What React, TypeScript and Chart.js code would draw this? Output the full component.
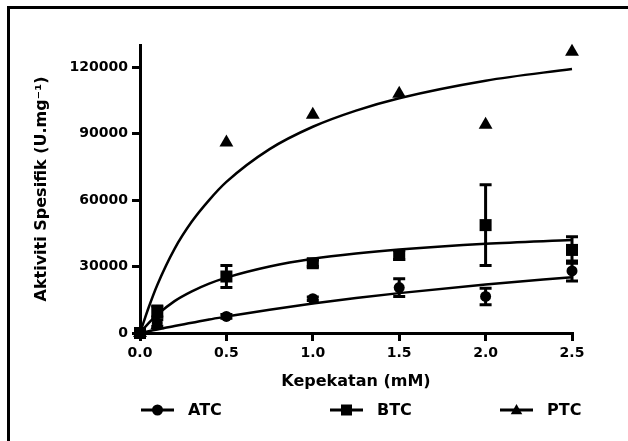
import React, { useEffect, useRef } from 'react';
import { Chart, registerables } from 'chart.js';

Chart.register(...registerables);

const FONT = "'DejaVu Sans', sans-serif";

// Measured points (mean ± error)
const concentrations = [0, 0.1, 0.5, 1.0, 1.5, 2.0, 2.5];
const atcMean = [0, 4500, 7500, 15500, 20500, 16500, 28000];
const atcErr = [0, 1500, 800, 800, 4000, 3700, 4500];
const btcMean = [0, 9700, 25500, 31500, 35200, 48700, 37500];
const btcErr = [0, 2500, 5000, 1500, 2000, 18200, 6000];
const ptcMean = [0, 3500, 86000, 98500, 108000, 94000, 127000];
const ptcErr = [0, 0, 0, 0, 0, 0, 0];

// Fitted curves
const fitX = [0, 0.05, 0.1, 0.2, 0.3, 0.4, 0.5, 0.75, 1.0, 1.25, 1.5, 2.0, 2.5];
const atcFit = [0, 800, 1600, 3200, 4600, 6100, 7400, 10500, 13300, 15800, 18000, 21900, 25200];
const btcFit = [0, 4500, 8300, 14400, 18800, 22300, 25000, 30000, 33500, 35900, 37700, 40300, 42000];
const ptcFit = [0, 11500, 21700, 38000, 50300, 60000, 68200, 83000, 93100, 100400, 106000, 113900, 119200];

const seriesLabels = ['ATC', 'BTC', 'PTC'];
const seriesMarkers = ['circle', 'rect', 'triangle'];

const xTickValues = [0, 0.5, 1.0, 1.5, 2.0, 2.5];
const xTickLabels = ['0.0', '0.5', '1.0', '1.5', '2.0', '2.5'];
const yTickValues = [0, 30000, 60000, 90000, 120000];
const yTickLabels = ['0', '30000', '60000', '90000', '120000'];

const xTitle = 'Kepekatan (mM)';
const yTitle = 'Aktiviti Spesifik (U.mg\u207B\u00B9)';

const toPoints = (xs: number[], ys: number[]) => xs.map((x, i) => ({ x, y: ys[i] }));

function drawMarker(ctx: CanvasRenderingContext2D, style: string, x: number, y: number, r: number) {
  ctx.beginPath();
  if (style === 'circle') {
    ctx.arc(x, y, r, 0, Math.PI * 2);
  } else if (style === 'rect') {
    ctx.rect(x - r, y - r, 2 * r, 2 * r);
  } else {
    ctx.moveTo(x, y - r * 1.1);
    ctx.lineTo(x + r * 1.05, y + r * 0.75);
    ctx.lineTo(x - r * 1.05, y + r * 0.75);
    ctx.closePath();
  }
  ctx.fill();
}

const framePlugin = {
  id: 'frame',
  beforeDraw(chart: any) {
    const { ctx, width, height } = chart;
    ctx.save();
    ctx.fillStyle = '#fff';
    ctx.fillRect(0, 0, width, height);
    ctx.fillStyle = '#000';
    ctx.fillRect(7, 6, width - 7, 3);
    ctx.fillRect(7, 6, 3, height - 6);
    ctx.restore();
  },
};

const errorBarPlugin = {
  id: 'errorBars',
  afterDatasetsDraw(chart: any) {
    const { ctx } = chart;
    const xs = chart.scales.x;
    const ys = chart.scales.y;
    ctx.save();
    ctx.strokeStyle = '#000';
    ctx.lineWidth = 3;
    chart.data.datasets.forEach((ds: any) => {
      if (!ds.errors) return;
      ds.data.forEach((p: any, i: number) => {
        const e = ds.errors[i];
        if (!e) return;
        const px = xs.getPixelForValue(p.x);
        const top = ys.getPixelForValue(p.y + e);
        const bot = ys.getPixelForValue(p.y - e);
        ctx.beginPath();
        ctx.moveTo(px, top);
        ctx.lineTo(px, bot);
        ctx.moveTo(px - 6, top);
        ctx.lineTo(px + 6, top);
        ctx.moveTo(px - 6, bot);
        ctx.lineTo(px + 6, bot);
        ctx.stroke();
      });
    });
    ctx.restore();
  },
};

const legendStarts = [141, 330, 500];

const legendPlugin = {
  id: 'gpLegend',
  afterDraw(chart: any) {
    const { ctx } = chart;
    const y = 410;
    ctx.save();
    ctx.fillStyle = '#000';
    ctx.strokeStyle = '#000';
    ctx.lineWidth = 3;
    ctx.font = `bold 16px ${FONT}`;
    ctx.textBaseline = 'middle';
    ctx.textAlign = 'left';
    const items = chart.data.datasets.filter((d: any) => d.legendMarker);
    items.forEach((ds: any, i: number) => {
      const x0 = legendStarts[i];
      ctx.beginPath();
      ctx.moveTo(x0, y);
      ctx.lineTo(x0 + 33, y);
      ctx.stroke();
      drawMarker(ctx, ds.legendMarker, x0 + 16.5, y, 5.5);
      ctx.fillText(ds.label, x0 + 47, y + 1);
    });
    ctx.restore();
  },
};

export default function App() {
  const canvasRef = useRef<HTMLCanvasElement | null>(null);

  useEffect(() => {
    if (!canvasRef.current) return;
    const pointRadii = [5.5, 8.5, 8];
    const means = [atcMean, btcMean, ptcMean];
    const errs = [atcErr, btcErr, ptcErr];
    const fits = [atcFit, btcFit, ptcFit];

    const fitSets = fits.map((f, i) => ({
      label: seriesLabels[i] + ' fit',
      data: toPoints(fitX, f),
      showLine: true,
      borderColor: '#000',
      borderWidth: 2.5,
      pointRadius: 0,
      pointHoverRadius: 0,
      cubicInterpolationMode: 'monotone' as const,
      fill: false,
      clip: false as const,
    }));
    const pointSets = means.map((m, i) => ({
      label: seriesLabels[i],
      data: toPoints(concentrations, m),
      errors: errs[i],
      legendMarker: seriesMarkers[i],
      showLine: false,
      pointStyle: seriesMarkers[i] as any,
      pointRadius: pointRadii[i],
      pointBackgroundColor: '#000',
      pointBorderColor: '#000',
      pointBorderWidth: 0,
      backgroundColor: '#000',
      borderColor: '#000',
      clip: false as const,
    }));

    const axisFont = { family: FONT, size: 14, weight: 'bold' as const };
    const titleFont = { family: FONT, size: 16, weight: 'bold' as const };
    const gridOpts = {
      drawOnChartArea: false,
      drawTicks: true,
      tickLength: 8,
      tickWidth: 3,
      tickColor: '#000',
      color: '#000',
      lineWidth: 3,
    };

    const chart = new Chart(canvasRef.current, {
      type: 'line',
      data: { datasets: [...fitSets, ...pointSets] as any },
      options: {
        responsive: false,
        animation: false,
        devicePixelRatio: 1,
        layout: { padding: { left: 32, right: 56, top: 45, bottom: 49.4 } },
        plugins: {
          legend: { display: false },
          tooltip: { enabled: false },
          title: { display: false },
        },
        scales: {
          x: {
            type: 'linear',
            min: 0,
            max: 2.5,
            afterBuildTicks: (s: any) => {
              s.ticks = xTickValues.map((v) => ({ value: v }));
            },
            ticks: {
              color: '#000',
              font: axisFont,
              padding: 4,
              maxRotation: 0,
              autoSkip: false,
              callback: (v: any) => {
                const i = xTickValues.findIndex((t) => Math.abs(t - Number(v)) < 1e-6);
                return i >= 0 ? xTickLabels[i] : '';
              },
            },
            grid: gridOpts,
            border: { display: true, color: '#000', width: 3 },
            title: { display: true, text: xTitle, color: '#000', font: titleFont, padding: 0 },
            afterFit: (s: any) => {
              s.height = 58.6;
            },
          },
          y: {
            type: 'linear',
            min: 0,
            max: 130000,
            afterBuildTicks: (s: any) => {
              s.ticks = yTickValues.map((v) => ({ value: v }));
            },
            ticks: {
              color: '#000',
              font: axisFont,
              padding: 4,
              autoSkip: false,
              callback: (v: any) => {
                const i = yTickValues.indexOf(Number(v));
                return i >= 0 ? yTickLabels[i] : '';
              },
            },
            grid: gridOpts,
            border: { display: true, color: '#000', width: 3 },
            title: { display: true, text: yTitle, color: '#000', font: titleFont, padding: 0 },
            afterFit: (s: any) => {
              s.width = 108;
            },
          },
        },
      } as any,
      plugins: [framePlugin, errorBarPlugin, legendPlugin],
    });
    return () => chart.destroy();
  }, []);

  return (
    <canvas
      ref={canvasRef}
      width={628}
      height={441}
      style={{ position: 'fixed', left: 0, top: 0, width: 628, height: 441 }}
    />
  );
}
